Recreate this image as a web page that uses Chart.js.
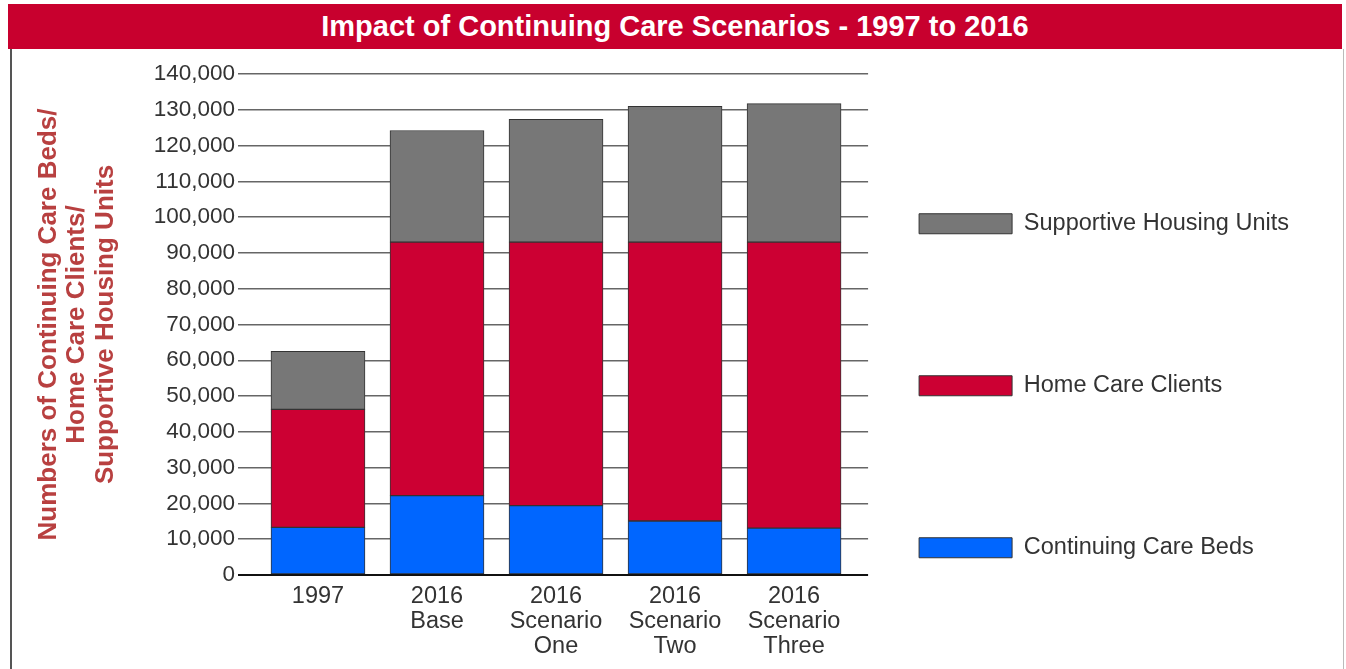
<!DOCTYPE html>
<html>
<head>
<meta charset="utf-8">
<title>Impact of Continuing Care Scenarios - 1997 to 2016</title>
<script src="https://cdn.jsdelivr.net/npm/chart.js@4.4.1/dist/chart.umd.min.js"></script>
<style>
  html, body { margin: 0; padding: 0; overflow: hidden; background: #fff; }
  body { width: 1346px; height: 669px; position: relative; font-family: 'Liberation Sans', Arial, sans-serif; }
  #frame { position: absolute; left: 10px; top: 49px; width: 1331px; height: 640px; border-left: 2px solid #555; border-right: 1px solid #bbb; }
  #title { position: absolute; left: 8px; top: 4px; width: 1334px; height: 45px; background: #c8002e; color: #fff; font-weight: bold; font-size: 29px; line-height: 45px; text-align: center; }
  #chart { position: absolute; left: 12px; top: 49px; }
</style>
</head>
<body>
<div id="frame"></div>
<div id="title">Impact of Continuing Care Scenarios - 1997 to 2016</div>
<canvas id="chart" width="1328" height="680"></canvas>
<script>
const Chart = window.Chart

// chart data
const categories = ['1997', '2016 Base', '2016 Scenario One', '2016 Scenario Two', '2016 Scenario Three']
const tickLabels = [['1997'], ['2016', 'Base'], ['2016', 'Scenario', 'One'], ['2016', 'Scenario', 'Two'], ['2016', 'Scenario', 'Three']]
const careBeds = [13300, 22200, 19400, 15100, 13100]
const homeCareClients = [33000, 70800, 73600, 77900, 79900]
const supportiveHousing = [16200, 31200, 34300, 38000, 38700]
const axisTitle = ['Numbers of Continuing Care Beds/', 'Home Care Clients/', 'Supportive Housing Units']
const yMin = 0
const yMax = 140000
const yStep = 10000

const family = "'Liberation Sans', Arial, sans-serif"

// legend items get an array text so the font lineHeight spaces them out
function legendLabels (chart) {
  return Chart.defaults.plugins.legend.labels.generateLabels(chart)
    .map(item => ({ ...item, text: [item.text] }))
}

new Chart(document.getElementById('chart'), {
  type: 'bar',
  data: {
    labels: categories.map((c, i) => i),
    datasets: [
      { label: 'Continuing Care Beds', data: careBeds, backgroundColor: '#0066ff' },
      { label: 'Home Care Clients', data: homeCareClients, backgroundColor: '#cc0033' },
      { label: 'Supportive Housing Units', data: supportiveHousing, backgroundColor: '#777777' }
    ]
  },
  options: {
    responsive: false,
    animation: false,
    devicePixelRatio: 1,
    datasets: {
      bar: { barThickness: 94, borderColor: '#333', borderWidth: 1, borderSkipped: false }
    },
    layout: { padding: { top: 25, right: 41, bottom: 31, left: 0 } },
    plugins: {
      legend: {
        position: 'right',
        align: 'end',
        reverse: true,
        maxWidth: 600,
        labels: {
          boxWidth: 93,
          boxHeight: 20,
          padding: 51,
          color: '#333',
          font: { family, size: 23.5, lineHeight: '111px' },
          generateLabels: legendLabels
        }
      },
      tooltip: {
        callbacks: { title: items => items.length ? categories[items[0].parsed.x] : '' }
      }
    },
    scales: {
      x: {
        type: 'linear',
        stacked: true,
        offset: false,
        min: -0.672,
        max: 4.622,
        afterFit: scale => { scale.height = 123 },
        grid: { display: false, drawTicks: false, offset: false },
        border: { display: false },
        ticks: {
          stepSize: 1,
          includeBounds: false,
          autoSkip: false,
          maxRotation: 0,
          padding: 9,
          color: '#333',
          font: { family, size: 23.5, lineHeight: '25px' },
          callback: v => tickLabels[v] || ''
        }
      },
      y: {
        stacked: true,
        min: yMin,
        max: yMax,
        afterFit: scale => { scale.width = 226 },
        border: { display: false },
        grid: {
          drawTicks: false,
          color: c => c.tick.value === 0 ? '#111' : '#666',
          lineWidth: c => c.tick.value === 0 ? 2 : 1.5
        },
        ticks: {
          stepSize: yStep,
          padding: 3,
          color: '#333',
          font: { family, size: 22.5 },
          callback: v => v.toLocaleString('en-US')
        },
        title: {
          display: true,
          text: axisTitle,
          color: '#b84040',
          font: { family, size: 26, weight: 'bold', lineHeight: '28.5px' },
          padding: { top: 22.5, bottom: 0 }
        }
      }
    }
  }
})
</script>
</body>
</html>
